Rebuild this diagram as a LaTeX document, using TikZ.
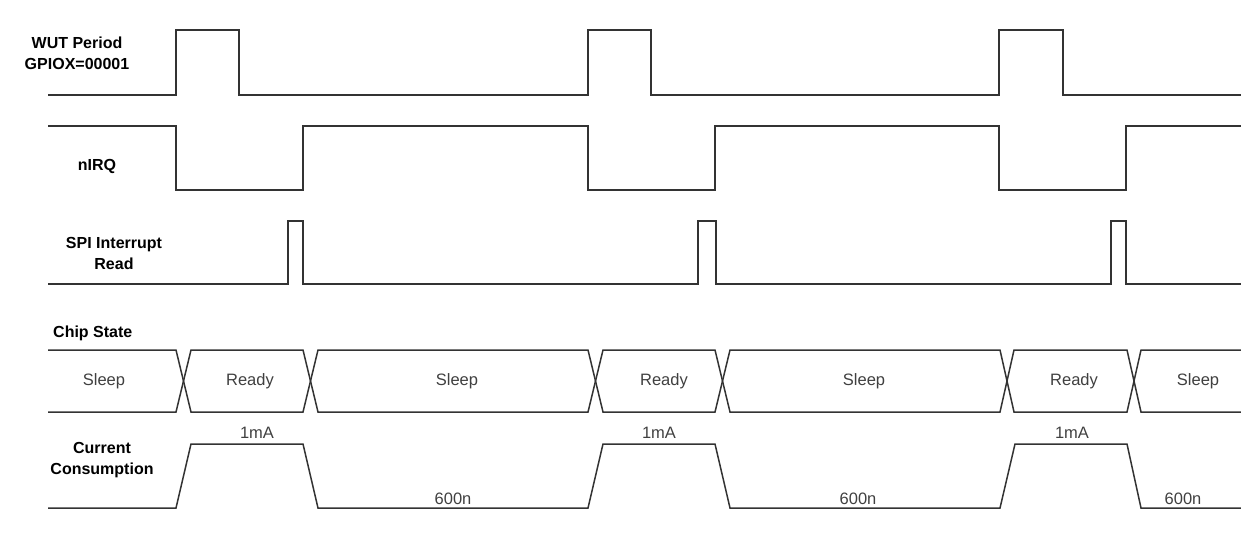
\documentclass[tikz,border=0pt]{standalone}
\usepackage{fontspec}
\setmainfont{Liberation Sans}
\begin{document}
\begin{tikzpicture}[x=1pt,y=-1pt,
  sig/.style={line width=1.5pt,black!80,line join=miter},
  lbl/.style={font=\fontsize{16}{21}\selectfont\bfseries,align=center,inner sep=0pt},
  val/.style={font=\fontsize{16.5}{18}\selectfont,text=black!75,inner sep=0pt}]
\useasboundingbox (0,0) rectangle (1241,538);

\node[lbl] (wut) at (77,53) {WUT Period\\GPIOX=00001};
\node[lbl] (nirq) at (97,166) {nIRQ};
\node[lbl] (spi) at (114,253) {SPI Interrupt\\Read};
\node[lbl,anchor=west] (chip) at (53,333) {Chip State};
\node[lbl] (curr) at (102,460) {Current\\Consumption};

\draw[sig] (48,95) -- (176,95) -- (176,30) -- (239,30) -- (239,95) -- (588,95) -- (588,30) -- (651,30) -- (651,95) -- (999,95) -- (999,30) -- (1063,30) -- (1063,95) -- (1241,95);

\draw[sig] (48,126) -- (176,126) -- (176,190) -- (303,190) -- (303,126) -- (588,126) -- (588,190) -- (715,190) -- (715,126) -- (999,126) -- (999,190) -- (1126,190) -- (1126,126) -- (1241,126);

\draw[sig] (48,284) -- (288,284) -- (288,221) -- (303,221) -- (303,284) -- (698,284) -- (698,221) -- (716,221) -- (716,284) -- (1111,284) -- (1111,221) -- (1126,221) -- (1126,284) -- (1241,284);

\draw[sig] (48,350) -- (176,350) -- (191,412) -- (303,412) -- (318,350) -- (588,350) -- (603,412) -- (715,412) -- (730,350) -- (1000,350) -- (1014,412) -- (1127,412) -- (1141,350) -- (1241,350);
\draw[sig] (48,412) -- (176,412) -- (191,350) -- (303,350) -- (318,412) -- (588,412) -- (603,350) -- (715,350) -- (730,412) -- (1000,412) -- (1014,350) -- (1127,350) -- (1141,412) -- (1241,412);

\node[val] (s1) at (104,381) {Sleep};
\node[val] (r1) at (250,381) {Ready};
\node[val] (s2) at (457,381) {Sleep};
\node[val] (r2) at (664,381) {Ready};
\node[val] (s3) at (864,381) {Sleep};
\node[val] (r3) at (1074,381) {Ready};
\node[val] (s4) at (1198,381) {Sleep};

\draw[sig] (48,508) -- (176,508) -- (191,444) -- (303,444) -- (318,508) -- (588,508) -- (603,444) -- (715,444) -- (730,508) -- (1000,508) -- (1015,444) -- (1127,444) -- (1141,508) -- (1241,508);

\node[val] (ma1) at (257,433) {1mA};
\node[val] (ma2) at (659,433) {1mA};
\node[val] (ma3) at (1072,433) {1mA};
\node[val] (na1) at (453,499) {600n};
\node[val] (na2) at (858,499) {600n};
\node[val] (na3) at (1183,499) {600n};
\end{tikzpicture}
\end{document}
